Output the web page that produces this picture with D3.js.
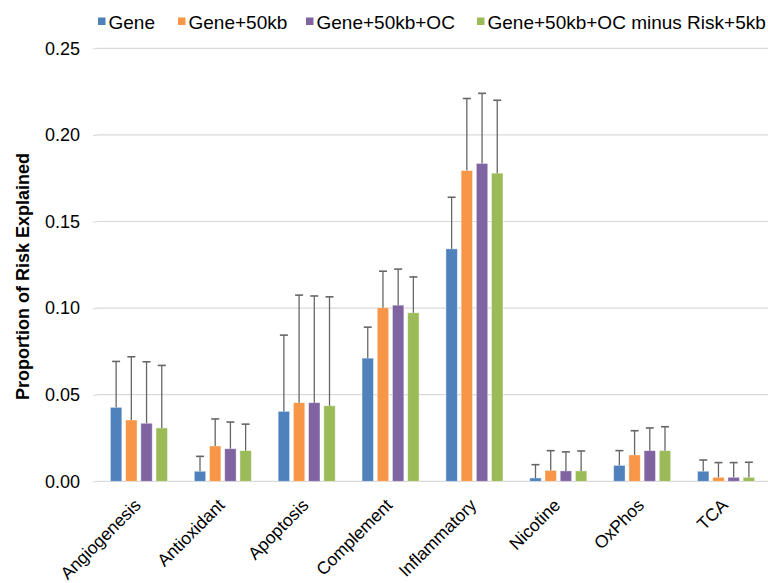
<!DOCTYPE html>
<html>
<head>
<meta charset="utf-8">
<script src="https://cdn.jsdelivr.net/npm/d3@7"></script>
<style>
  body { margin: 0; background: #fff; }
  svg text { font-family: "Liberation Sans", Arial, Helvetica, sans-serif; fill: #000; }
</style>
</head>
<body>
<svg width="768" height="583"></svg>
<script>
const categories = ["Angiogenesis", "Antioxidant", "Apoptosis", "Complement", "Inflammatory", "Nicotine", "OxPhos", "TCA"]
const seriesNames = ["Gene", "Gene+50kb", "Gene+50kb+OC", "Gene+50kb+OC minus Risk+5kb"]
const colors = ["#4F81BD", "#F79646", "#8064A2", "#9BBB59"]

// bar heights per series
const gene      = [0.0427, 0.0058, 0.0404, 0.0711, 0.1342, 0.0019, 0.0092, 0.0058]
const gene50    = [0.0354, 0.0204, 0.0454, 0.1002, 0.1794, 0.0063, 0.0152, 0.0023]
const gene50oc  = [0.0335, 0.0188, 0.0454, 0.1017, 0.1835, 0.0060, 0.0177, 0.0023]
const minusRisk = [0.0308, 0.0177, 0.0436, 0.0973, 0.1779, 0.0060, 0.0177, 0.0023]

// top of error bars per series
const geneErr      = [0.0692, 0.0144, 0.0844, 0.0890, 0.1640, 0.0096, 0.0177, 0.0123]
const gene50Err    = [0.0719, 0.0360, 0.1075, 0.1213, 0.2210, 0.0177, 0.0292, 0.0108]
const gene50ocErr  = [0.0690, 0.0342, 0.1070, 0.1225, 0.2240, 0.0170, 0.0308, 0.0108]
const minusRiskErr = [0.0669, 0.0330, 0.1065, 0.1180, 0.2200, 0.0175, 0.0315, 0.0110]

const yTicks = [0, 0.05, 0.10, 0.15, 0.20, 0.25]

const values = [gene, gene50, gene50oc, minusRisk]
const errs = [geneErr, gene50Err, gene50ocErr, minusRiskErr]

const svg = d3.select("svg")
const plotLeft = 97, plotRight = 768, plotTop = 48.3, plotBottom = 481.3

const x = d3.scaleBand().domain(categories).range([plotLeft, plotRight]).paddingInner(0.32).paddingOuter(0.16)
const xs = d3.scaleBand().domain(seriesNames).range([0, x.bandwidth()]).paddingInner(0.25)
const y = d3.scaleLinear().domain([0, 0.25]).range([plotBottom, plotTop])

// gridlines
svg.append("g")
  .selectAll("line")
  .data(yTicks)
  .enter()
  .append("line")
  .attr("x1", plotLeft)
  .attr("x2", plotRight)
  .attr("y1", d => y(d))
  .attr("y2", d => y(d))
  .attr("stroke", "#d9d9d9")
  .attr("stroke-width", 1.2)

// y axis labels
const yAxis = svg.append("g")
  .attr("transform", `translate(${plotLeft},0)`)
  .call(d3.axisLeft(y).tickValues(yTicks).tickFormat(d3.format(".2f")).tickSize(4).tickPadding(13))
yAxis.select(".domain").remove()
yAxis.selectAll(".tick line").attr("stroke", "#d9d9d9")
yAxis.selectAll(".tick text").style("font-size", "18px").attr("fill", "#000")

// bars
const groups = svg.append("g")
  .selectAll("g")
  .data(categories)
  .enter()
  .append("g")
  .attr("transform", d => `translate(${x(d)},0)`)

const rows = (d, i) => seriesNames.map((s, j) => ({ s: s, j: j, v: values[j][i], e: errs[j][i] }))

groups.selectAll("rect")
  .data(rows)
  .enter()
  .append("rect")
  .attr("x", d => xs(d.s))
  .attr("y", d => y(d.v))
  .attr("width", xs.bandwidth())
  .attr("height", d => y(0) - y(d.v))
  .attr("fill", d => colors[d.j])
  .attr("stroke", "#ffffff")
  .attr("stroke-opacity", 0.5)
  .attr("stroke-width", 0.8)

// error bars
const errG = groups.selectAll("g.err")
  .data(rows)
  .enter()
  .append("g")
  .attr("class", "err")

errG.append("line")
  .attr("x1", d => xs(d.s) + xs.bandwidth() / 2)
  .attr("x2", d => xs(d.s) + xs.bandwidth() / 2)
  .attr("y1", d => y(d.v))
  .attr("y2", d => y(d.e))
  .attr("stroke", "#666")
  .attr("stroke-width", 1.3)

errG.append("line")
  .attr("x1", d => xs(d.s) + xs.bandwidth() / 2 - 4)
  .attr("x2", d => xs(d.s) + xs.bandwidth() / 2 + 4)
  .attr("y1", d => y(d.e))
  .attr("y2", d => y(d.e))
  .attr("stroke", "#666")
  .attr("stroke-width", 1.6)

// x labels
svg.append("g")
  .selectAll("text")
  .data(categories)
  .enter()
  .append("text")
  .attr("transform", d => `translate(${x(d) + x.bandwidth() / 2 + 3},${plotBottom + 25}) rotate(-45)`)
  .attr("text-anchor", "end")
  .style("font-size", "17.5px")
  .text(d => d)

// y title
svg.append("text")
  .attr("transform", "translate(29,276.5) rotate(-90)")
  .attr("text-anchor", "middle")
  .style("font-size", "18px")
  .style("font-weight", "bold")
  .text("Proportion of Risk Explained")

// legend
const legendX = [98, 178, 306, 477]
const legend = svg.append("g")
  .selectAll("g")
  .data(seriesNames)
  .enter()
  .append("g")
  .attr("transform", (d, i) => `translate(${legendX[i]},0)`)

legend.append("rect")
  .attr("x", 0)
  .attr("y", 17.5)
  .attr("width", 7.5)
  .attr("height", 7.5)
  .attr("fill", (d, i) => colors[i])

legend.append("text")
  .attr("x", 10.5)
  .attr("y", 29)
  .style("font-size", "19px")
  .text(d => d)
</script>
</body>
</html>
